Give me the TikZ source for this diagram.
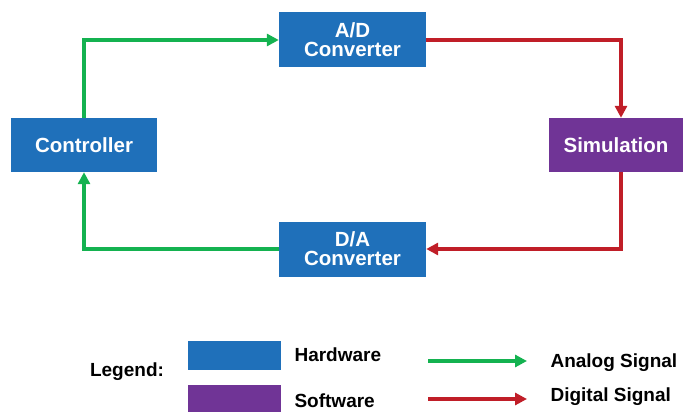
\documentclass[tikz,border=0pt]{standalone}
\usepackage{fontspec}
\setmainfont{Liberation Sans}
\usepackage{tikz}
\usetikzlibrary{arrows.meta}

\definecolor{hwblue}{RGB}{31,112,186}
\definecolor{swpurple}{RGB}{112,52,150}
\definecolor{siggreen}{RGB}{20,178,80}
\definecolor{sigred}{RGB}{192,30,40}

\tikzset{
	block/.style={fill=#1,text=white,font=\bfseries\fontsize{20.5}{19}\selectfont,align=center,inner sep=0pt},
	sig/.style={line width=3.5pt,draw=#1,-{Triangle[length=12pt,width=12pt]}},
	legtext/.style={font=\bfseries\fontsize{19}{20}\selectfont,anchor=west}
}

\begin{document}
\begin{tikzpicture}[x=1pt,y=-1pt]
		\useasboundingbox (0,0) rectangle (683,412);

		\node[block=hwblue,minimum width=147pt,minimum height=55pt] (ad) at (352.5,40) {A/D\\Converter};
		\node[block=hwblue,minimum width=146pt,minimum height=54pt] (ctrl) at (84,145) {Controller};
		\node[block=swpurple,minimum width=134pt,minimum height=54pt] (sim) at (616,145) {Simulation};
		\node[block=hwblue,minimum width=147pt,minimum height=55pt] (da) at (352.5,249) {D/A\\Converter};

		\draw[sig=siggreen] (ctrl.north) |- (ad.west);
		\draw[sig=sigred] (ad.east) -| ([xshift=5pt]sim.north);
		\draw[sig=sigred] ([xshift=5pt]sim.south) |- (da.east);
		\draw[sig=siggreen] (da.west) -| (ctrl.south);

		% legend
		\node[font=\bfseries\fontsize{19}{20}\selectfont] (leg) at (127,372) {Legend:};
		\node[fill=hwblue,minimum width=93pt,minimum height=29pt,inner sep=0pt] (hwbox) at (234.5,355) {};
		\node[fill=swpurple,minimum width=93pt,minimum height=27pt,inner sep=0pt] (swbox) at (234.5,398.5) {};
		\node[legtext] (hw) at (291,355) {Hardware};
		\node[legtext] (sw) at (291,401) {Software};

		\coordinate (ga) at (428,361);
		\coordinate (gb) at (527,361);
		\coordinate (ra) at (428,399);
		\coordinate (rb) at (527,399);
		\draw[sig=siggreen] (ga) -- (gb);
		\draw[sig=sigred] (ra) -- (rb);
		\node[legtext] (an) at (547,363) {Analog Signal};
		\node[legtext] (di) at (547,397) {Digital Signal};
	\end{tikzpicture}
\end{document}
